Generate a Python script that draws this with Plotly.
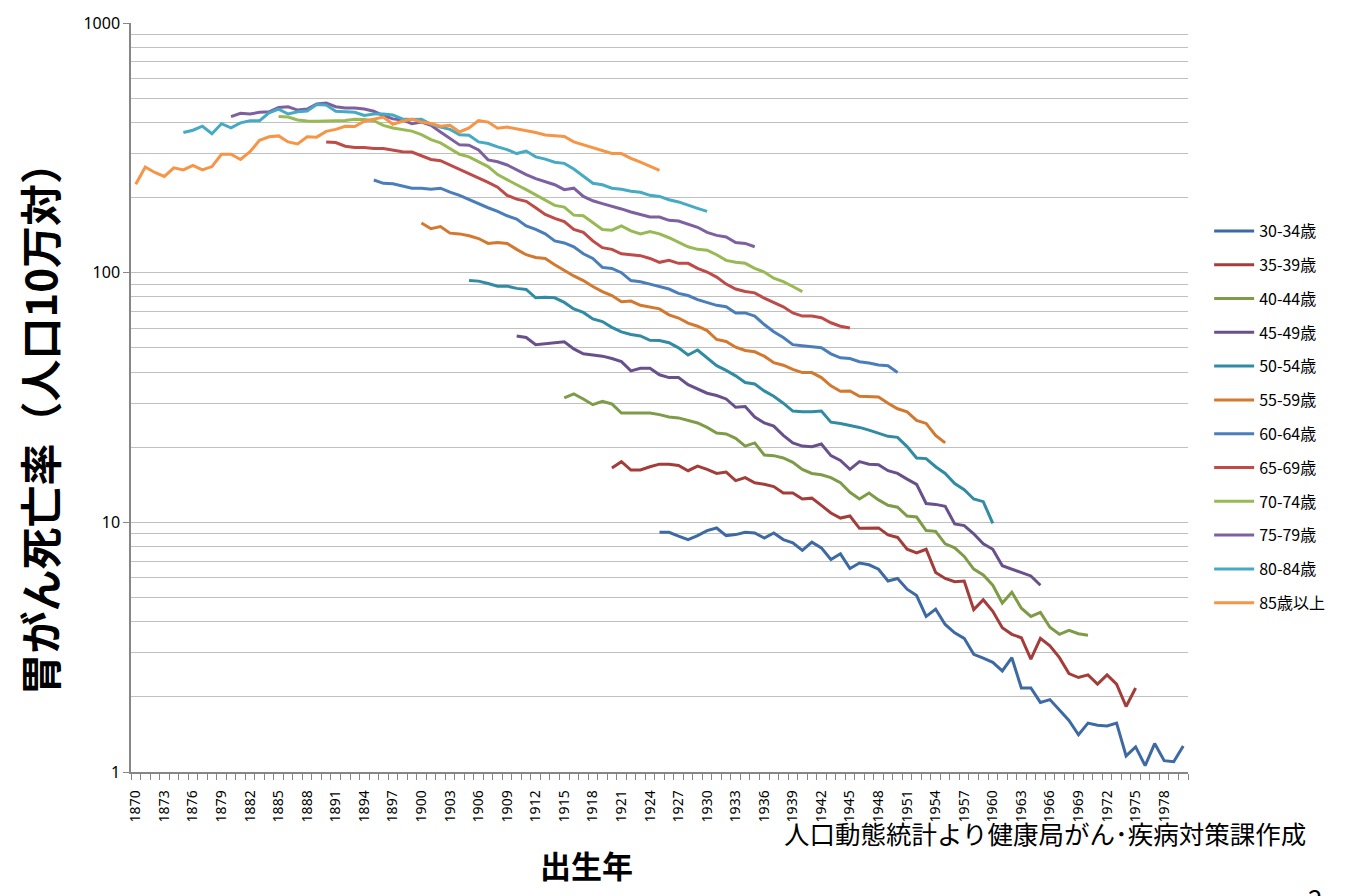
import plotly.graph_objects as go

# ---- data (birth-cohort stomach cancer mortality, per 100k) ----
series_names = ["30-34歳", "35-39歳", "40-44歳", "45-49歳", "50-54歳", "55-59歳",
                "60-64歳", "65-69歳", "70-74歳", "75-79歳", "80-84歳", "85歳以上"]
start_years = [1925, 1920, 1915, 1910, 1905, 1900, 1895, 1890, 1885, 1880, 1875, 1870]
colors = ["#3D6AA3", "#A33D3A", "#7E9C47", "#67508B", "#318BA3", "#D2782F",
          "#4A7EBB", "#BE4B48", "#98B954", "#7D60A0", "#46AAC5", "#F69545"]

s30_34 = [9.12, 9.12, 8.8, 8.53, 8.85, 9.27, 9.49, 8.85, 8.93, 9.12,
          9.06, 8.65, 9.06, 8.53, 8.28, 7.72, 8.33, 7.9, 7.1, 7.48,
          6.53, 6.87, 6.76, 6.49, 5.82, 5.96, 5.4, 5.09, 4.2, 4.49,
          3.9, 3.61, 3.43, 2.96, 2.86, 2.75, 2.54, 2.87, 2.17, 2.17,
          1.9, 1.95, 1.77, 1.61, 1.41, 1.57, 1.54, 1.53, 1.57, 1.16,
          1.26, 1.06, 1.30, 1.11, 1.10, 1.27]
s35_39 = [16.5, 17.5, 16.2, 16.2, 16.7, 17.1, 17.1, 16.9, 16.1, 16.8,
          16.3, 15.7, 15.9, 14.7, 15.1, 14.4, 14.2, 13.9, 13.1, 13.1,
          12.4, 12.5, 11.7, 10.9, 10.4, 10.6, 9.46, 9.5, 9.5, 8.9,
          8.7, 7.8, 7.55, 7.8, 6.3, 5.96, 5.78, 5.82, 4.47, 4.9,
          4.4, 3.78, 3.56, 3.45, 2.83, 3.43, 3.2, 2.87, 2.48, 2.39,
          2.45, 2.25, 2.45, 2.25, 1.83, 2.17]
s40_44 = [31.5, 32.7, 31.2, 29.6, 30.5, 29.8, 27.4, 27.4, 27.3, 27.4,
          27.0, 26.4, 26.2, 25.5, 25.0, 24.0, 22.8, 22.6, 21.7, 20.2,
          20.8, 18.6, 18.5, 18.1, 17.4, 16.3, 15.7, 15.5, 15.1, 14.4,
          13.2, 12.4, 13.1, 12.3, 11.7, 11.5, 10.6, 10.5, 9.27, 9.2,
          8.2, 7.9, 7.3, 6.5, 6.15, 5.6, 4.75, 5.25, 4.53, 4.2,
          4.36, 3.8, 3.56, 3.69, 3.58, 3.53]
s45_49 = [55.8, 55.0, 51.5, 52.0, 52.2, 52.9, 49.5, 47.3, 46.8, 46.3,
          45.3, 44.0, 40.4, 41.4, 41.4, 39.0, 38.0, 38.0, 35.6, 34.2,
          32.9, 32.2, 31.2, 28.9, 29.1, 26.4, 25.0, 24.3, 22.3, 20.8,
          20.2, 20.1, 20.6, 18.5, 17.7, 16.3, 17.5, 17.1, 17.0, 16.1,
          15.7, 14.9, 14.2, 11.9, 11.8, 11.6, 9.85, 9.7, 9.0, 8.2,
          7.8, 6.7, 6.5, 6.3, 6.1, 5.6]
s50_54 = [93, 92.5, 90.5, 88.3, 88.3, 86.5, 85.7, 79.3, 79.7, 79.3,
          76, 71.6, 69.3, 65.3, 63.7, 60.4, 57.9, 56.5, 55.8, 53.6,
          53.5, 52.4, 50, 46.8, 49, 45.6, 42.4, 40.6, 38.6, 36.3,
          35.8, 33.6, 32, 30, 27.9, 27.7, 27.7, 27.9, 25.2, 24.9,
          24.5, 24, 23.4, 22.7, 22.1, 21.9, 20.1, 18.1, 18, 16.7,
          15.7, 14.3, 13.5, 12.4, 12.1, 9.9]
s55_59 = [158, 150, 153, 144, 143, 140.5, 137, 131, 132, 131,
          124, 118, 115, 114, 107.6, 102, 97, 93, 88, 84,
          81, 76.5, 77, 74, 73, 71.6, 67.8, 65.8, 62.8, 61,
          58.6, 54, 53, 50.3, 48.8, 48.2, 46.3, 43.6, 42.6, 41,
          39.8, 39.8, 38, 35.2, 33.5, 33.6, 32, 32, 31.8, 30,
          28.5, 27.7, 25.6, 24.9, 22.3, 20.8]
s60_64 = [235, 228, 227, 222, 218, 218, 216, 218, 210, 204,
          196, 188, 182, 176, 169, 164, 154, 149, 143, 134,
          131.5, 127, 119, 114, 105, 104, 100, 93, 92, 90,
          88, 86, 82.6, 81, 78, 76, 74, 73, 69, 69,
          67, 62, 58, 55, 51.5, 51, 50.6, 50, 47.3, 45.6,
          45.3, 44, 43.5, 42.7, 42.4, 39.8]
s65_69 = [334, 332, 321, 317, 317, 314, 314, 310, 305, 304,
          294, 284, 281, 270, 260, 250, 239, 230, 220, 204,
          197, 193, 182, 171, 165, 160, 149, 145, 134, 126,
          124, 119, 118, 117, 114, 110, 112, 109, 109, 104,
          100.6, 96, 90, 86, 84, 83, 79, 76, 73, 69,
          67, 67, 66, 63, 61, 60]
s70_74 = [422, 420, 409, 405, 404, 405, 406, 407, 412, 411,
          406, 389, 380, 375, 369, 357, 341, 331, 314, 298,
          291, 278, 266, 247, 235, 225, 215, 205, 196, 186,
          183, 170, 169, 159, 149, 148, 154, 147, 143, 146,
          143, 138, 132, 127, 124, 123, 118, 112, 110, 109,
          104, 100.6, 95, 92, 88, 84]
s75_79 = [422, 435, 432, 439, 441, 459, 462, 448, 452, 474,
          478, 462, 457, 457, 452, 443, 426, 413, 409, 395,
          401, 389, 366, 344, 325, 324, 310, 283, 278, 270,
          258, 247, 238, 232, 225, 215, 218, 202, 194, 189,
          185, 180, 175, 171, 167, 167, 162, 161, 156, 152,
          145, 141, 139, 132, 131, 127]
s80_84 = [364, 372, 386, 360, 395, 380, 398, 406, 406, 437,
          452, 432, 441, 444, 472, 469, 443, 441, 439, 426,
          432, 432, 428, 413, 411, 412, 393, 383, 375, 357,
          355, 334, 329, 319, 311, 300, 307, 291, 285, 277,
          274, 260, 243, 228, 225, 218, 216, 212, 210, 204,
          202, 196, 192, 187, 181, 176]
s85_up = [226, 265, 252, 243, 263, 258, 269, 258, 266, 298,
          298, 284, 305, 339, 350, 353, 334, 328, 350, 349,
          368, 375, 386, 385, 404, 413, 420, 393, 404, 412,
          401, 396, 386, 389, 366, 380, 407, 401, 379, 383,
          377, 370, 364, 356, 353, 351, 334, 325, 315, 307,
          300, 300, 287, 277, 266, 257]

all_series = [s30_34, s35_39, s40_44, s45_49, s50_54, s55_59,
              s60_64, s65_69, s70_74, s75_79, s80_84, s85_up]

x_tick_years = list(range(1870, 1979, 3))
y_major = [1, 10, 100, 1000]
y_minor = [m * d for d in (1, 10, 100) for m in range(2, 10)]

font_jp = "Noto Sans CJK JP"

fig = go.Figure()
for name, start, vals, col in zip(series_names, start_years, all_series, colors):
    fig.add_trace(go.Scatter(
        x=list(range(start, start + len(vals))), y=vals, name=name,
        mode="lines", line=dict(color=col, width=3),
        legendgroup=name,
    ))

grid_col = "#C0C0C0"
fig.update_layout(
    width=1347, height=896,
    paper_bgcolor="white", plot_bgcolor="white",
    margin=dict(l=131, r=159, t=15, b=124),
    font=dict(family=font_jp, color="#000000"),
    showlegend=True,
    legend=dict(x=1.02, xanchor="left", y=0.745, yanchor="top",
                font=dict(family=font_jp, size=16, color="#000000"),
                tracegroupgap=10, itemwidth=40, bgcolor="rgba(0,0,0,0)"),
    xaxis=dict(
        range=[1869.5, 1980.5], tickmode="array", tickvals=x_tick_years,
        ticktext=[str(v) for v in x_tick_years], tickangle=-90,
        tickfont=dict(family="Noto Sans", size=14, color="#000000"),
        ticks="", showgrid=False, zeroline=False,
        showline=True, linecolor="#868686", linewidth=1.5,
        ticklabelstandoff=11,
        minor=dict(tickmode="linear", tick0=1869.5, dtick=1, ticks="outside",
                   ticklen=6, tickcolor="#868686", showgrid=False),
    ),
    yaxis=dict(
        type="log", range=[0, 3], tickmode="array", tickvals=y_major,
        ticktext=[str(v) for v in y_major],
        tickfont=dict(family="Noto Sans", size=16, color="#000000"),
        ticks="outside", ticklen=6, tickcolor="#868686",
        showgrid=True, gridcolor=grid_col, gridwidth=1.3,
        showline=True, linecolor="#868686", linewidth=1.5, zeroline=False,
        minor=dict(tickmode="array", tickvals=y_minor, showgrid=True,
                   gridcolor=grid_col, gridwidth=1.3, ticks=""),
    ),
    annotations=[
        dict(text="<b>胃がん死亡率（人口10万対）</b>", xref="paper", yref="paper",
             x=-0.088, y=0.472, xanchor="center", yanchor="middle",
             textangle=-90, showarrow=False,
             font=dict(family=font_jp, size=42, color="#000000")),
        dict(text="<b>出生年</b>", xref="paper", yref="paper",
             x=0.4314, y=-0.1229, xanchor="center", yanchor="middle", showarrow=False,
             font=dict(family=font_jp, size=31, color="#000000")),
        dict(text="人口動態統計より健康局がん･疾病対策課作成", xref="paper", yref="paper",
             x=0.865, y=-0.0806, xanchor="center", yanchor="middle", showarrow=False,
             font=dict(family=font_jp, size=25.5, color="#000000")),
        dict(text="2", xref="paper", yref="paper",
             x=1.12, y=-0.14, xanchor="center", yanchor="top", showarrow=False,
             font=dict(family=font_jp, size=26, color="#000000")),
    ],
)

fig.write_html("out.html", config={"displayModeBar": False},
               post_script="document.body.style.margin='0';")
